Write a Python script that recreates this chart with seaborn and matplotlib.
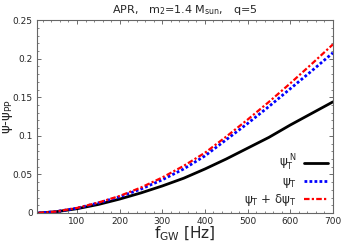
import numpy as np
import pandas as pd
import matplotlib
matplotlib.use("Agg")
import matplotlib.pyplot as plt
import seaborn as sns
from matplotlib.ticker import MultipleLocator, AutoMinorLocator

freq = [10, 50, 100, 150, 200, 250, 300, 350, 400, 450, 500, 550, 600, 650, 700]
psi_N = [0.0, 0.0015, 0.0055, 0.011, 0.018, 0.026, 0.035, 0.045, 0.057, 0.070, 0.084, 0.098, 0.114, 0.129, 0.144]
psi_T = [0.0, 0.0017, 0.0062, 0.013, 0.021, 0.031, 0.043, 0.057, 0.074, 0.095, 0.116, 0.138, 0.161, 0.184, 0.2076]
psi_T_d = [0.0, 0.0018, 0.0065, 0.0135, 0.022, 0.033, 0.046, 0.061, 0.078, 0.099, 0.121, 0.144, 0.168, 0.193, 0.2185]

labels = ['ψ$_{\\mathrm{T}}^{\\ \\mathrm{N}}$', 'ψ$_{\\mathrm{T}}$', 'ψ$_{\\mathrm{T}}$ + δψ$_{\\mathrm{T}}$']

df = pd.DataFrame({
    'f': freq * 3,
    'v': psi_N + psi_T + psi_T_d,
    'series': [labels[0]] * len(freq) + [labels[1]] * len(freq) + [labels[2]] * len(freq),
})

sns.set_theme(style="ticks")
plt.rcParams['font.family'] = ['DejaVu Sans']
plt.rcParams['mathtext.fontset'] = 'dejavusans'

fig = plt.figure(figsize=(3.45, 2.42), dpi=100)
ax = fig.add_axes([0.107, 0.12, 0.858, 0.797])

palette = {labels[0]: 'black', labels[1]: '#0000ff', labels[2]: '#ff0000'}
sns.lineplot(data=df, x='f', y='v', hue='series', palette=palette, ax=ax, legend=False)
lines = ax.get_lines()
lines[0].set_linewidth(2.0)
lines[1].set_linewidth(2.0)
lines[1].set_linestyle((0, (1, 0.8)))
lines[2].set_linewidth(1.6)
lines[2].set_linestyle((0, (2.5, 1, 1, 1)))
for ln, lab in zip(lines, labels):
    ln.set_label(lab)

ax.set_xlim(6, 700)
ax.set_ylim(0, 0.25)
ax.xaxis.set_minor_locator(AutoMinorLocator(5))
ax.yaxis.set_minor_locator(AutoMinorLocator(5))
ax.set_yticks([0, 0.05, 0.1, 0.15, 0.2, 0.25])
ax.set_yticklabels(['0', '0.05', '0.1', '0.15', '0.2', '0.25'])
ax.set_xticks([100, 200, 300, 400, 500, 600, 700])
ax.tick_params(which='both', direction='in', top=True, right=True, labelsize=6.5, color='#555555', pad=3)
ax.tick_params(which='major', length=3, width=0.6)
ax.tick_params(which='minor', length=1.5, width=0.5)
for sp in ax.spines.values():
    sp.set_color('#666666')
    sp.set_linewidth(0.8)

ax.set_xlabel('f$_{\\mathrm{GW}}$ [Hz]', fontsize=11, labelpad=-1)
ax.set_ylabel('ψ-ψ$_{\\mathrm{PP}}$', fontsize=9.5)
ax.yaxis.set_label_coords(-0.075, 0.5)
ax.set_title('APR,   m$_2$=1.4 M$_{\\mathrm{sun}}$,   q=5', fontsize=8, pad=5)

leg = ax.legend(loc='lower right', frameon=False, markerfirst=False, fontsize=8.5,
                handlelength=2.0, labelspacing=0.15, borderaxespad=0.05, handletextpad=0.6)

fig.savefig('out.png', dpi=100)
